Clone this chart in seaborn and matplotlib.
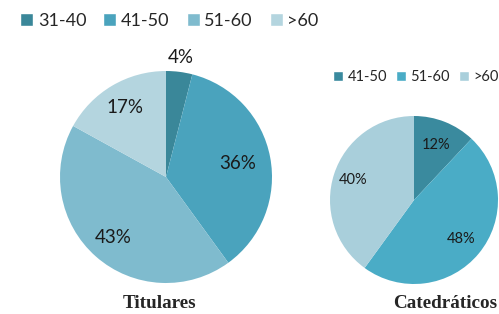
import matplotlib
matplotlib.use("Agg")
import matplotlib.pyplot as plt
import seaborn as sns
import numpy as np
from matplotlib.patches import Patch

# data
tit_labels = ["31-40", "41-50", "51-60", ">60"]
tit_values = [4, 36, 43, 17]
tit_colors = ["#3a8799", "#4aa3bd", "#7fbbce", "#b4d5df"]

cat_labels = ["41-50", "51-60", ">60"]
cat_values = [12, 48, 40]
cat_colors = ["#3a8a9e", "#4aacc6", "#a9cfdb"]

sns.set_style("white")
plt.rcParams['font.family'] = ['Lato', 'DejaVu Sans']

W, H = 499, 314
fig = plt.figure(figsize=(W / 100, H / 100), dpi=100)


def px_axes(cx, cy, r):
    return fig.add_axes([(cx - r) / W, 1 - (cy + r) / H, 2 * r / W, 2 * r / H])


def draw_pie(ax, values, colors, fs, dists):
    wedges, _ = ax.pie(values, colors=colors, startangle=90, counterclock=False,
                       radius=1, wedgeprops=dict(linewidth=0))
    for w, v, d in zip(wedges, values, dists):
        ang = np.deg2rad((w.theta1 + w.theta2) / 2)
        ax.text(d * np.cos(ang), d * np.sin(ang), "{}%".format(v),
                ha="center", va="center", fontsize=fs, color="#1a1a1a")
    ax.set_xlim(-1, 1)
    ax.set_ylim(-1, 1)
    ax.set_aspect("equal")
    ax.axis("off")


ax1 = px_axes(166, 177, 106)
draw_pie(ax1, tit_values, tit_colors, 13.5, [1.14, 0.69, 0.76, 0.76])

ax2 = px_axes(414, 200, 84)
draw_pie(ax2, cat_values, cat_colors, 10.5, [0.71, 0.73, 0.76])

h1 = [Patch(facecolor=c) for c in tit_colors]
fig.legend(h1, tit_labels, loc="center left", bbox_to_anchor=(13 / W, 1 - 21 / H),
           ncol=4, frameon=False, fontsize=13, handlelength=0.72, handleheight=0.72,
           handletextpad=0.25, columnspacing=0.95, borderaxespad=0)

h2 = [Patch(facecolor=c) for c in cat_colors]
fig.legend(h2, cat_labels, loc="center left", bbox_to_anchor=(327 / W, 1 - 77 / H),
           ncol=3, frameon=False, fontsize=10.5, handlelength=0.7, handleheight=0.7,
           handletextpad=0.3, columnspacing=0.6, borderaxespad=0)

fig.text(159.5 / W, 1 - 304 / H, "Titulares", ha="center", va="center",
         family="Liberation Serif", fontweight="bold", fontsize=13.8)
fig.text(445 / W, 1 - 304 / H, "Catedráticos", ha="center", va="center",
         family="Liberation Serif", fontweight="bold", fontsize=13.8)

fig.savefig("out.png", dpi=100)
